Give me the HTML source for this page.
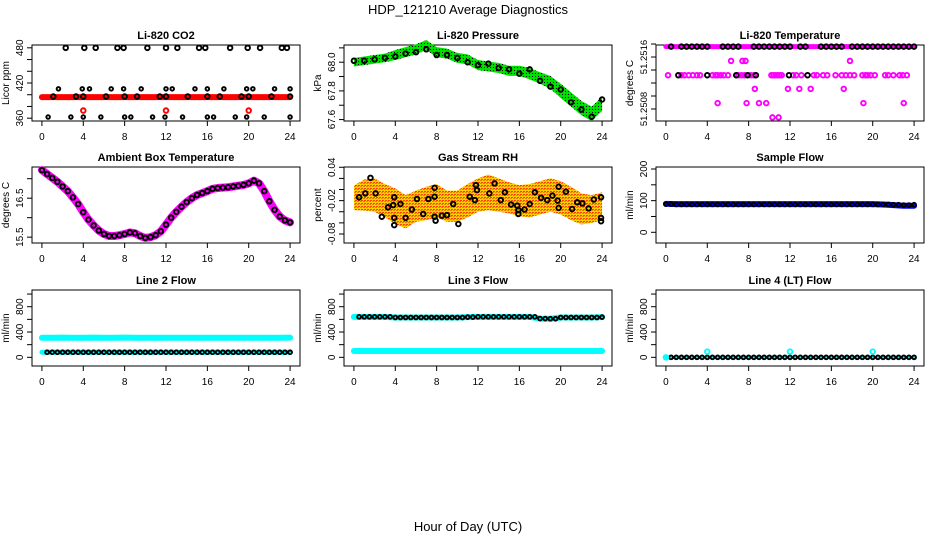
<!DOCTYPE html>
<html><head><meta charset="utf-8">
<style>
html,body{margin:0;padding:0;background:#fff;}
svg text{font-family:"Liberation Sans",Arial,sans-serif;}
</style></head>
<body>
<svg id="chart" width="936" height="540" viewBox="0 0 936 540" xmlns="http://www.w3.org/2000/svg">
<defs>
<pattern id="greenDots" width="3" height="3" patternUnits="userSpaceOnUse">
<rect width="3" height="3" fill="#00e000"/><rect x="1" y="1" width="1" height="1" fill="#000"/>
</pattern>
<pattern id="orangeDots" width="3" height="3" patternUnits="userSpaceOnUse">
<rect width="3" height="3" fill="#ffd000"/><rect x="0" y="0" width="2" height="1" fill="#f08000"/><rect x="1" y="2" width="2" height="1" fill="#ff4000"/>
</pattern>
</defs>
<text x="468" y="14" font-size="13" text-anchor="middle">HDP_121210  Average Diagnostics</text>
<text x="468" y="531" font-size="13" text-anchor="middle">Hour of Day (UTC)</text>
<g id="plots"></g>
</svg>
<script>
// ---------- data ----------
const hours = [0,1,2,3,4,5,6,7,8,9,10,11,12,13,14,15,16,17,18,19,20,21,22,23,24];
const xTicks = [0,4,8,12,16,20,24];

// CO2
const co2Band = [396,396,396,396,396,396,396,396,396,396,396,396,396,396,396,396,396,396,396,396,396,396,396,396,396];
const co2TopHours = [2.3,4.1,5.2,7.3,7.9,10.2,12,13.1,15.2,15.8,18.2,19.9,21.1,23.2,23.7];
const co2TopVals = [480,480,480,480,480,480,480,480,480,480,480,480,480,480,480];
const co2MidHours = [1.6,3.9,4.6,6.7,7.9,9.6,12,12.6,14.8,16,17.6,19.8,20.4,22.5,24];
const co2MidVals = [410,410,410,410,410,410,410,410,410,410,410,410,410,410,410];
const co2LowHours = [1.1,3.3,4,6.2,8,9.2,11.4,12,14.1,16,17.2,19.3,20,22.2,24];
const co2LowVals = [397,397,397,397,397,397,397,397,397,397,397,397,397,397,397];
const co2BotHours = [0.6,2.8,4,5.7,8,8.6,10.7,11.9,13.6,16,16.6,18.7,19.8,21.5,24];
const co2BotVals = [362,362,362,362,362,362,362,362,362,362,362,362,362,362,362];
const co2RedHours = [4,12,20];
const co2RedVals = [373,373,373];

// Pressure
const presCenter = [68.0,68.01,68.02,68.03,68.05,68.07,68.09,68.12,68.07,68.06,68.03,68.02,67.98,67.97,67.96,67.94,67.94,67.92,67.89,67.86,67.80,67.74,67.68,67.64,67.71];
const presHalf = [0.03,0.03,0.03,0.03,0.035,0.035,0.035,0.035,0.035,0.035,0.035,0.035,0.035,0.035,0.035,0.035,0.035,0.04,0.04,0.045,0.05,0.05,0.05,0.05,0.05];
const presPts = [68.01,68.01,68.02,68.03,68.04,68.06,68.07,68.09,68.05,68.05,68.03,68.0,67.98,67.99,67.96,67.95,67.92,67.95,67.87,67.83,67.81,67.72,67.67,67.62,67.74];

// Li-820 Temperature
const tempTopHours = [0,24];
const tempTopVals = [51.25176,51.25176];
const tempBlackTopHours = [0.5,1.5,2,2.5,3,3.5,4,5.5,6,6.5,7,8.5,9,9.5,10,10.5,11,11.5,12,13,13.5,15,15.5,16,16.5,17,18,18.5,19,19.5,20,20.5,21,21.5,22,22.5,23,23.5,24];
const tempMagHours = [6.3,7.4,7.7,17.8, 0.2,1.5,1.8,2.2,2.6,3.0,3.3,4.5,4.8,5.0,5.3,5.6,6.0,7.0,7.3,7.6,8.2,8.5,10.2,10.4,10.6,10.8,11.0,11.2,12.3,12.6,13.1,14.3,14.6,15.2,15.6,16.4,17.0,17.4,17.8,18.2,19.0,19.3,19.5,19.8,20.2,21.2,21.5,22.0,22.6,22.9,23.3, 8.6,11.8,12.9,14.0,17.2, 5.0,7.8,9.0,9.7,19.1,23.0, 10.3,10.9];
const tempMagVals = [51.25154,51.25154,51.25154,51.25154, 51.25132,51.25132,51.25132,51.25132,51.25132,51.25132,51.25132,51.25132,51.25132,51.25132,51.25132,51.25132,51.25132,51.25132,51.25132,51.25132,51.25132,51.25132,51.25132,51.25132,51.25132,51.25132,51.25132,51.25132,51.25132,51.25132,51.25132,51.25132,51.25132,51.25132,51.25132,51.25132,51.25132,51.25132,51.25132,51.25132,51.25132,51.25132,51.25132,51.25132,51.25132,51.25132,51.25132,51.25132,51.25132,51.25132,51.25132, 51.25111,51.25111,51.25111,51.25111,51.25111, 51.25089,51.25089,51.25089,51.25089,51.25089,51.25089, 51.25067,51.25067];
const tempBlackMidHours = [1.2,4.0,6.8,7.9,8.7,11.9,13.7];
const tempBlackMidVals = [51.25132,51.25132,51.25132,51.25132,51.25132,51.25132,51.25132];

// Ambient box temperature
const ambHours = [0,0.5,1,1.5,2,2.5,3,3.5,4,4.5,5,5.5,6,6.5,7,7.5,8,8.5,9,9.5,10,10.5,11,11.5,12,12.5,13,13.5,14,14.5,15,15.5,16,16.5,17,17.5,18,18.5,19,19.5,20,20.5,21,21.5,22,22.5,23,23.5,24];
const ambVals = [17.22,17.12,17.02,16.92,16.80,16.68,16.52,16.35,16.14,15.95,15.80,15.67,15.58,15.53,15.53,15.55,15.58,15.62,15.60,15.53,15.48,15.50,15.55,15.65,15.82,16.00,16.15,16.28,16.40,16.50,16.58,16.63,16.68,16.74,16.76,16.77,16.78,16.80,16.82,16.84,16.88,16.95,16.88,16.68,16.42,16.20,16.03,15.93,15.88];

// Gas stream RH
const rhCenter = [-0.015,-0.01,-0.01,-0.02,-0.03,-0.04,-0.03,-0.025,-0.02,-0.03,-0.03,-0.02,-0.01,-0.005,-0.01,-0.015,-0.02,-0.02,-0.015,-0.01,-0.015,-0.025,-0.035,-0.035,-0.03];
const rhHalf = [0.022,0.028,0.03,0.03,0.032,0.03,0.028,0.03,0.03,0.028,0.028,0.03,0.03,0.032,0.03,0.028,0.028,0.03,0.03,0.03,0.03,0.03,0.028,0.025,0.025];
const rhHours = [0.5,1.1,1.6,2.1,2.7,3.3,3.8,3.9,3.9,3.9,4.5,5.0,5.6,6.1,6.7,7.2,7.8,7.8,7.8,7.9,8.5,9.0,9.6,10.1,11.2,11.7,11.8,11.9,13.1,13.6,14.2,14.6,15.2,15.8,15.9,15.9,16.5,17.0,17.5,18.1,18.7,19.2,19.7,19.8,19.8,20.5,21.1,21.6,22.1,22.7,23.2,23.9,23.9,23.9];
const rhVals = [-0.014,-0.007,0.021,-0.007,-0.049,-0.032,-0.028,-0.014,-0.051,-0.064,-0.026,-0.051,-0.036,-0.017,-0.044,-0.017,0.003,-0.013,-0.049,-0.056,-0.047,-0.046,-0.026,-0.062,-0.013,-0.019,0.008,-0.001,-0.007,0.011,-0.019,-0.005,-0.027,-0.029,-0.037,-0.044,-0.036,-0.026,-0.005,-0.015,-0.019,-0.011,-0.020,0.005,-0.033,-0.004,-0.035,-0.023,-0.025,-0.034,-0.018,-0.014,-0.051,-0.057];

// Sample flow
const sampleBand = [90,89,89,89,89,89,89,89,89,89,89,89,89,89,89,89,89,89,89,89,89,88,86,84,84];
const samplePts = [89,88,88,88,88,88,88,88,88,88,88,88,88,88,88,88,88,88,88,88,88,88,87,86,87];

// Line 2 flow
const l2High = [310,310,312,310,310,312,310,310,312,310,310,310,310,310,310,310,310,310,310,310,310,310,310,310,312];
const l2Low = [80,80,80,80,80,80,80,80,80,80,80,80,80,80,80,80,80,80,80,80,80,80,80,80,80];

// Line 3 flow
const l3High = [640,640,640,640,630,630,630,630,630,630,630,635,640,640,640,640,640,640,612,610,630,630,630,630,635];
const l3Low = [100,100,100,100,100,100,100,100,100,100,100,100,100,100,100,100,100,100,100,100,100,100,100,100,100];

// Line 4 flow
const l4Vals = [0,0,0,0,0,0,0,0,0,0,0,0,0,0,0,0,0,0,0,0,0,0,0,0,0];
const l4SpikeHours = [4,12,20];
const l4SpikeVals = [90,90,90];

// ---------- drawing ----------
const NS = "http://www.w3.org/2000/svg";
const root = document.getElementById('plots');
const W = 268, H = 76;
function mk(tag, attrs, parent){
  const e = document.createElementNS(NS, tag);
  for (const k in attrs) e.setAttribute(k, attrs[k]);
  (parent||root).appendChild(e);
  return e;
}
function makePanel(name, col, row, ymin, ymax, yTicks, yLabels, ytitle, title, lfs){
  const p = {l:[32,344,656][col], t:[45,167,290][row], ymin, ymax, name};
  p.g = mk('g', {});
  
  
  p.sx = h => p.l + (h + 0.96) / 25.92 * W;
  p.sy = v => p.t + (ymax - v) / (ymax - ymin) * H;
  const box = mk('rect', {x:p.l, y:p.t, width:W, height:H, fill:'none', stroke:'#000', 'stroke-width':1}, p.g);
  
  
  const tt = mk('text', {x:p.l + W/2, y:p.t - 6, 'font-size':11, 'font-weight':'bold', 'text-anchor':'middle'}, p.g);
  tt.textContent = title;
  
  
  const xa = mk('g', {}, p.g);
  
  
  mk('line', {x1:p.sx(xTicks[0]), x2:p.sx(xTicks[xTicks.length-1]), y1:p.t+H, y2:p.t+H, stroke:'#000'}, xa);
  xTicks.forEach(t => {
    mk('line', {x1:p.sx(t), x2:p.sx(t), y1:p.t+H, y2:p.t+H+5, stroke:'#000'}, xa);
    const lb = mk('text', {x:p.sx(t), y:p.t+H+19, 'font-size':10, 'text-anchor':'middle'}, xa);
    lb.textContent = t;
  });
  const ya = mk('g', {}, p.g);
  
  
  yTicks.forEach((t, i) => {
    mk('line', {x1:p.l-5, x2:p.l, y1:p.sy(t), y2:p.sy(t), stroke:'#000'}, ya);
    if (yLabels[i] !== '') {
      const lb = mk('text', {x:p.l-9, y:p.sy(t), 'font-size':lfs||10, 'text-anchor':'middle', transform:`rotate(-90 ${p.l-9} ${p.sy(t)})`}, ya);
      lb.textContent = yLabels[i];
    }
  });
  const yt = mk('text', {x:p.l-23, y:p.t+H/2, 'font-size':10, 'text-anchor':'middle', transform:`rotate(-90 ${p.l-23} ${p.t+H/2})`}, p.g);
  yt.textContent = ytitle;
  
  
  p.plot = mk('g', {}, p.g);
  return p;
}
function band(p, xs, ys, color, width, nm){
  const e = mk('polyline', {points: xs.map((h,i)=>p.sx(h)+','+p.sy(ys[i])).join(' '), fill:'none', stroke:color, 'stroke-width':width, 'stroke-linejoin':'round', 'stroke-linecap':'round'}, p.plot);
  
  
}
function area(p, xs, c, hw, fill, nm){
  const up = xs.map((h,i)=>p.sx(h)+','+p.sy(c[i]+hw[i]));
  const dn = xs.map((h,i)=>p.sx(h)+','+p.sy(c[i]-hw[i])).reverse();
  const e = mk('polygon', {points: up.concat(dn).join(' '), fill:fill, stroke:'none'}, p.plot);
  
  
}
function pts(p, xs, ys, color, nm, r){
  const g = mk('g', {}, p.plot);
  
  
  xs.forEach((h,i) => {
    const c = mk('circle', {cx:p.sx(h), cy:p.sy(ys[i]), r:r||2.3, fill:'none', stroke:color, 'stroke-width':1.9}, g);
    
    
  });
}
function rng(a,b,s){const o=[];for(let v=a;v<=b+1e-9;v+=s)o.push(+v.toFixed(6));return o;}

let p = makePanel('co2', 0, 0, 355.2, 484.8, rng(360,480,20), ['360','','','420','','','480'], 'Licor ppm', 'Li-820 CO2');
band(p, hours, co2Band, '#ff0000', 6, 'co2-band');
pts(p, co2TopHours, co2TopVals, '#000', 'co2-top-points');
pts(p, co2MidHours, co2MidVals, '#000', 'co2-mid-points', 1.8);
pts(p, co2LowHours, co2LowVals, '#000', 'co2-low-points');
pts(p, co2BotHours, co2BotVals, '#000', 'co2-bottom-points', 1.8);
pts(p, co2RedHours, co2RedVals, '#ff0000', 'co2-red-points');

p = makePanel('pressure', 1, 0, 67.59, 68.12, rng(67.6,68.1,0.1), ['67.6','','67.8','','68.0',''], 'kPa', 'Li-820 Pressure');
area(p, hours, presCenter, presHalf, 'url(#greenDots)', 'pressure-band');
pts(p, hours, presPts, '#000', 'pressure-points');

p = makePanel('li820-temp', 2, 0, 51.250615, 51.251785, rng(51.2508,51.2518,0.0002), ['51.2508','','','','51.2516',''], 'degrees C', 'Li-820 Temperature', 9.5);
band(p, tempTopHours, tempTopVals, '#ff00ff', 5, 'temp-top-band');
pts(p, tempBlackTopHours, tempBlackTopHours.map(()=>tempTopVals[0]), '#000', 'temp-top-points');
pts(p, tempMagHours, tempMagVals, '#ff00ff', 'temp-magenta-points');
pts(p, tempBlackMidHours, tempBlackMidVals, '#000', 'temp-mid-points');

p = makePanel('ambient', 0, 1, 15.35, 17.30, [15.5,16,16.5,17], ['15.5','','16.5',''], 'degrees C', 'Ambient Box Temperature');
band(p, ambHours, ambVals, '#ff00ff', 8, 'ambient-band');
pts(p, ambHours, ambVals, '#000', 'ambient-points');

p = makePanel('rh', 1, 1, -0.0962, 0.0405, rng(-0.08,0.04,0.02), ['-0.08','','','-0.02','','','0.04'], 'percent', 'Gas Stream RH');
area(p, hours, rhCenter, rhHalf, 'url(#orangeDots)', 'rh-band');
pts(p, rhHours, rhVals, '#000', 'rh-points');

p = makePanel('sample-flow', 2, 1, -33.8, 206.3, [0,50,100,150,200], ['0','','100','','200'], 'ml/min', 'Sample Flow');
band(p, hours, sampleBand, '#0000ff', 6, 'sample-band');
pts(p, hours.concat(hours.slice(0,24).map(h=>h+0.5)), samplePts.concat(samplePts.slice(0,24)), '#000', 'sample-points', 1.9);

const flowTicks = [0,200,400,600,800,1000], flowLabels = ['0','','400','','800',''];
p = makePanel('line2', 0, 2, -137, 1064, flowTicks, flowLabels, 'ml/min', 'Line 2 Flow');
band(p, hours, l2High, '#00ffff', 6, 'line2-high-band');
band(p, hours, l2Low, '#00ffff', 5, 'line2-low-band');
pts(p, hours.slice(1).concat(hours.slice(0,24).map(h=>h+0.5)), l2Low.slice(1).concat(l2Low.slice(0,24)), '#000', 'line2-points', 1.9);

p = makePanel('line3', 1, 2, -137, 1064, flowTicks, flowLabels, 'ml/min', 'Line 3 Flow');
band(p, hours, l3High, '#00ffff', 6, 'line3-high-band');
band(p, hours, l3Low, '#00ffff', 6, 'line3-low-band');
pts(p, hours.slice(1).concat(hours.slice(0,24).map(h=>h+0.5)), l3High.slice(1).concat(l3High.slice(0,24)), '#000', 'line3-points', 1.9);

p = makePanel('line4', 2, 2, -137, 1064, flowTicks, flowLabels, 'ml/min', 'Line 4 (LT) Flow');
band(p, hours, l4Vals, '#00ffff', 3, 'line4-band');
pts(p, hours.slice(1).concat(hours.slice(0,24).map(h=>h+0.5)), l4Vals.slice(1).concat(l4Vals.slice(0,24)), '#000', 'line4-points', 1.9);
pts(p, [0].concat(l4SpikeHours), [0].concat(l4SpikeVals), '#00ffff', 'line4-spike-points');
</script>
</body></html>
